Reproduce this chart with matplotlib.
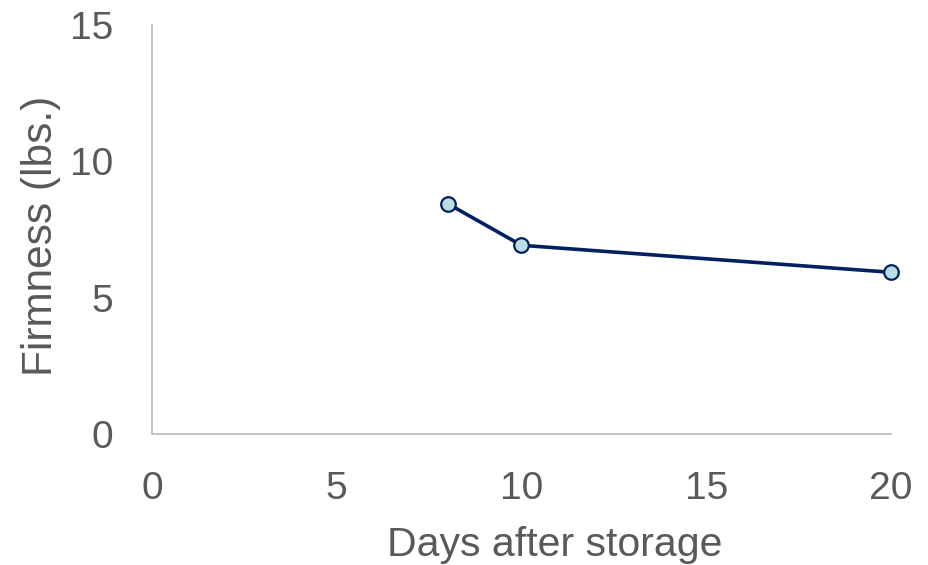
import matplotlib
matplotlib.use("Agg")
import matplotlib.pyplot as plt

days = [8, 10, 20]
firmness = [8.45, 6.92, 5.93]
x_ticks = [0, 5, 10, 15, 20]
y_ticks = [0, 5, 10, 15]

plt.rcParams['font.family'] = ['Liberation Sans', 'DejaVu Sans']

fig = plt.figure(figsize=(9.29, 5.65), dpi=100)
ax = fig.add_axes([0.1636, 0.2319, 0.959 - 0.1636, 0.9558 - 0.2319])

ax.plot(days, firmness, color='#002060', linewidth=2.6, marker='o',
        markersize=10.5, markerfacecolor='#B9DDE3', markeredgecolor='#002060',
        markeredgewidth=1.6, zorder=3, clip_on=False)

ax.set_xlim(0, 20)
ax.set_ylim(0, 15)
ax.set_xticks(x_ticks)
ax.set_yticks(y_ticks)
ax.tick_params(length=0, labelsize=28, colors='#595959')
ax.tick_params(axis='x', pad=27)
ax.tick_params(axis='y', pad=28)
for s in ['top', 'right']:
    ax.spines[s].set_visible(False)
for s in ['left', 'bottom']:
    ax.spines[s].set_color('#BFBFBF')
    ax.spines[s].set_linewidth(1.3)

ax.set_xlabel('Days after storage', fontsize=29.5, color='#595959')
ax.set_ylabel('Firmness (lbs.)', fontsize=30.5, color='#595959')
ax.xaxis.set_label_coords((555 - 152) / 739, -0.2245)
ax.yaxis.set_label_coords(-0.123, 0.485)

fig.savefig('out.png', dpi=100)
